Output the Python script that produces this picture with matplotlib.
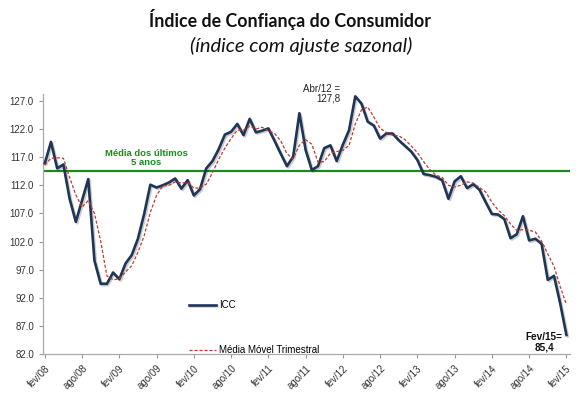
import matplotlib
matplotlib.use("Agg")
import matplotlib.pyplot as plt
import matplotlib.patheffects as pe

# ICC com ajuste sazonal, fev/08 .. fev/15 (mensal)
icc = [115.9, 119.7, 115.0, 115.7, 109.6, 105.5, 109.3, 113.1, 98.6, 94.5,
       94.5, 96.5, 95.3, 98.1, 99.6, 102.5, 106.9, 112.1, 111.6, 112.0,
       112.5, 113.2, 111.4, 112.9, 110.2, 111.3, 115.0, 116.3, 118.4, 121.0,
       121.5, 122.9, 120.9, 123.8, 121.4, 121.7, 122.1, 119.9, 117.6, 115.4,
       117.1, 124.8, 118.3, 114.7, 115.4, 118.6, 119.1, 116.3, 119.2, 121.8,
       127.8, 126.5, 123.3, 122.6, 120.3, 121.2, 121.2, 120.0, 119.0, 118.0,
       116.5, 114.0, 113.8, 113.5, 112.9, 109.6, 112.7, 113.6, 111.5, 112.2,
       111.2, 109.0, 106.9, 106.8, 106.0, 102.6, 103.3, 106.5, 102.2, 102.5,
       101.6, 95.2, 95.9, 91.0, 85.4]

# media movel trimestral
mm3 = [115.6, 116.8, 116.9, 116.8, 113.4, 110.3, 108.1, 109.3, 107.0, 102.1,
       95.9, 95.2, 95.4, 96.6, 97.7, 100.1, 103.0, 107.2, 110.2, 111.9,
       112.0, 112.6, 112.4, 112.5, 111.5, 111.5, 112.2, 114.2, 116.6, 118.6,
       120.3, 121.8, 121.8, 122.5, 122.0, 122.3, 121.7, 121.2, 119.9, 117.6,
       116.7, 119.1, 120.1, 119.3, 116.1, 116.2, 117.7, 118.0, 118.2, 119.1,
       122.9, 125.4, 125.9, 124.1, 122.1, 121.4, 120.9, 120.8, 120.1, 119.0,
       117.8, 116.2, 114.8, 113.8, 113.4, 112.0, 111.7, 112.0, 112.6, 112.4,
       111.6, 110.8, 109.0, 107.6, 106.6, 105.1, 104.0, 104.1, 104.0, 103.7,
       102.1, 99.8, 97.6, 94.0, 90.8]

media_5anos = 114.5

tick_labels = ["fev/08", "ago/08", "fev/09", "ago/09", "fev/10", "ago/10",
               "fev/11", "ago/11", "fev/12", "ago/12", "fev/13", "ago/13",
               "fev/14", "ago/14", "fev/15"]
yticks = [82.0, 87.0, 92.0, 97.0, 102.0, 107.0, 112.0, 117.0, 122.0, 127.0]

plt.rcParams['font.family'] = ['Liberation Sans', 'DejaVu Sans']

fig = plt.figure(figsize=(5.8, 3.97), dpi=100)
ax = fig.add_axes([0.074, 0.108, 0.909, 0.655])

x = list(range(len(icc)))

ax.axhline(media_5anos, color="#1e8a1e", lw=1.6, zorder=1)
ax.plot(x, icc, color="#1f3558", lw=1.9, label="ICC", zorder=3,
        path_effects=[pe.SimpleLineShadow(offset=(1, -1), alpha=0.2), pe.Normal()])
ax.plot(x, mm3, color="#c0392b", lw=0.9, ls=(0, (2.5, 1.5)),
        label="Média Móvel Trimestral", zorder=4)

ax.set_xlim(-0.3, 84.6)
ax.set_ylim(82, 128.2)
ax.set_yticks(yticks)
ax.set_yticklabels(["%.1f" % v for v in yticks], fontsize=7, color="#333333")
ax.set_xticks(list(range(0, len(icc), 6)))
ax.set_xticklabels(tick_labels, rotation=45, ha="right", rotation_mode="anchor",
                   fontsize=7, color="#333333")
ax.tick_params(axis="both", length=3, color="#999999", width=0.8)

for s in ["top", "right"]:
    ax.spines[s].set_visible(False)
for s in ["left", "bottom"]:
    ax.spines[s].set_color("#aaaaaa")
    ax.spines[s].set_linewidth(0.9)

ax.text(16.3, 116.8, "Média dos últimos\n5 anos", color="#1e8a1e", fontsize=6.8,
        fontweight="bold", ha="center", va="center", linespacing=1.0)
ax.text(47.6, 128.3, "Abr/12 =\n127,8", fontsize=7, color="#222222",
        ha="right", va="center", linespacing=1.0, multialignment="right")
ax.text(83.4, 84.1, "Fev/15=\n85,4", fontsize=7.2, fontweight="bold",
        color="#111111", ha="right", va="center", linespacing=1.0,
        multialignment="center")

ax.legend(loc="lower left", bbox_to_anchor=(0.26, -0.037), frameon=False,
          fontsize=7, handlelength=2.8, handletextpad=0.3, labelspacing=3.6)

fig.text(0.5, 0.952, "Índice de Confiança do Consumidor", ha="center", va="center",
         fontsize=12.8, fontweight="bold", family="Lato", color="#111111")
fig.text(0.52, 0.884, "(índice com ajuste sazonal)", ha="center", va="center",
         fontsize=14.5, style="italic", family="Lato", color="#111111")

plt.savefig("out.png", dpi=100)
